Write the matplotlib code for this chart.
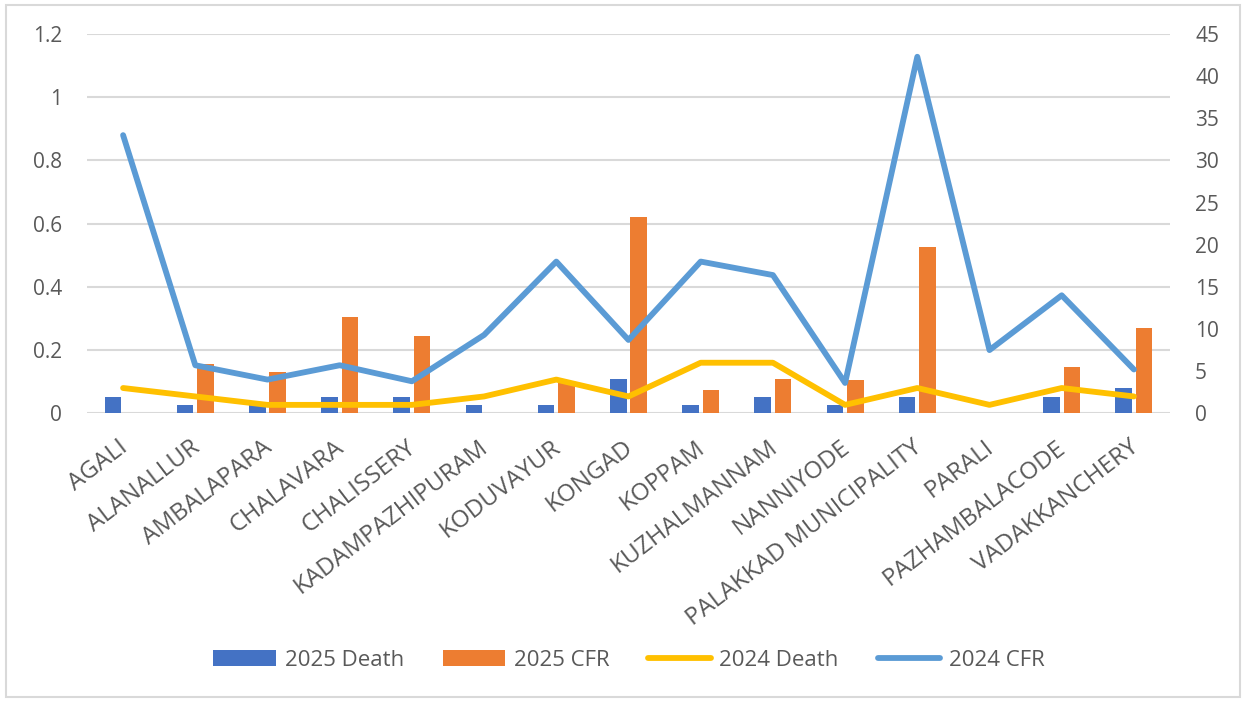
import numpy as np
import matplotlib
matplotlib.use('Agg')
import matplotlib.pyplot as plt
from matplotlib.patches import Rectangle
from matplotlib.transforms import ScaledTranslation

plt.rcParams['font.family'] = ['Open Sans', 'DejaVu Sans']

BLOCKS = ['AGALI', 'ALANALLUR', 'AMBALAPARA', 'CHALAVARA', 'CHALISSERY',
          'KADAMPAZHIPURAM', 'KODUVAYUR', 'KONGAD', 'KOPPAM', 'KUZHALMANNAM',
          'NANNIYODE', 'PALAKKAD MUNICIPALITY', 'PARALI', 'PAZHAMBALACODE',
          'VADAKKANCHERY']

# bars, left axis
death_2025 = [0.053, 0.027, 0.027, 0.053, 0.053, 0.027, 0.027, 0.107, 0.027,
              0.053, 0.027, 0.053, 0, 0.053, 0.08]
cfr_2025 = [0, 0.155, 0.132, 0.306, 0.246, 0, 0.1, 0.622, 0.073, 0.107,
            0.104, 0.527, 0, 0.146, 0.269]

# lines, right axis
death_2024 = [3, 2, 1, 1, 1, 2, 4, 2, 6, 6, 1, 3, 1, 3, 2]
cfr_2024 = [33, 5.7, 4, 5.7, 3.8, 9.3, 18, 8.7, 18, 16.4, 3.6, 42.3, 7.5, 14, 5.2]

C_DEATH25 = '#4472C4'
C_CFR25 = '#ED7D31'
C_DEATH24 = '#FFC000'
C_CFR24 = '#5B9BD5'
TXT = '#595959'
GRID = '#D9D9D9'

fig = plt.figure(figsize=(12.47, 7.02), dpi=100)
ax = fig.add_axes([87/1247, 1 - 413.3/702, (1170 - 87)/1247, (413.3 - 34)/702])
ax2 = ax.twinx()

x = np.arange(len(BLOCKS))
w = 0.23
ax.bar(x - 0.14, death_2025, w, color=C_DEATH25, label='2025 Death', zorder=2)
ax.bar(x + 0.14, cfr_2025, w, color=C_CFR25, label='2025 CFR', zorder=2)
ax2.plot(x, death_2024, color=C_DEATH24, lw=4.2, solid_capstyle='round',
         solid_joinstyle='round', label='2024 Death')
ax2.plot(x, cfr_2024, color=C_CFR24, lw=4.2, solid_capstyle='round',
         solid_joinstyle='round', label='2024 CFR')

ax.set_xlim(-0.5, len(BLOCKS) - 0.5)
ax.set_ylim(0, 1.2)
ax.set_yticks(np.arange(0, 1.21, 0.2))
ax.set_yticklabels(['0', '0.2', '0.4', '0.6', '0.8', '1', '1.2'])
ax2.set_ylim(0, 45)
ax2.set_yticks(np.arange(0, 46, 5))

ax.yaxis.grid(True, color=GRID, lw=1.5, zorder=0)
ax.set_axisbelow(True)
for a in (ax, ax2):
    for s in a.spines.values():
        s.set_visible(False)
ax.tick_params(axis='y', length=0, pad=18, labelsize=15, labelcolor=TXT)
ax2.tick_params(axis='y', length=0, pad=18, labelsize=15, labelcolor=TXT)
ax.tick_params(axis='x', length=0, pad=16, labelsize=17.5, labelcolor=TXT)
ax.set_xticks(x)
ax.set_xticklabels(BLOCKS, rotation=37.5, ha='right', va='top', rotation_mode='anchor')
shift = ScaledTranslation(-4/72, 0, fig.dpi_scale_trans)
for lab in ax.get_xticklabels():
    lab.set_transform(lab.get_transform() + shift)

h1, l1 = ax.get_legend_handles_labels()
h2, l2 = ax2.get_legend_handles_labels()
fig.legend(h1 + h2, l1 + l2, loc='center', bbox_to_anchor=(629/1247, 1 - 660/702),
           ncol=4, frameon=False, fontsize=16, labelcolor=TXT,
           handlelength=2.8, handletextpad=0.4, columnspacing=1.75)

fig.patches.append(Rectangle((6/1247, 5/702), 1234/1247, 692/702, transform=fig.transFigure,
                             fill=False, edgecolor=GRID, lw=1.5))

fig.savefig('out.png', dpi=100)
